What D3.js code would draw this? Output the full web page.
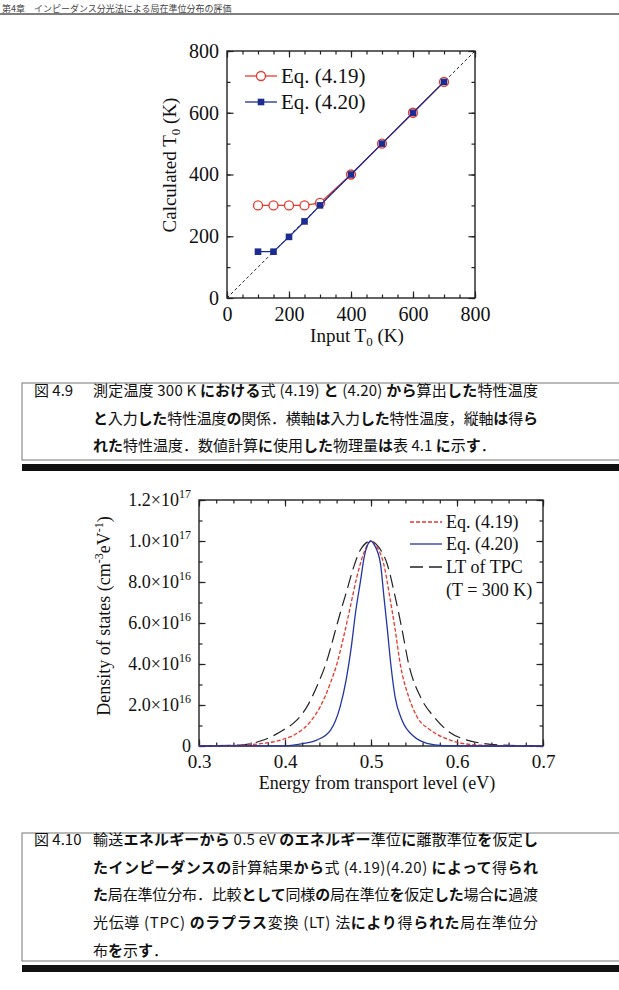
<!DOCTYPE html>
<html>
<head>
<meta charset="utf-8">
<title>特性温度と局在準位分布</title>
<script src="https://d3js.org/d3.v7.min.js"></script>
<style>
  body { margin: 0; background: #fff; }
  svg { display: block; }
</style>
</head>
<body>
<script>
// ---- 図4.9 のデータ（入力した特性温度 vs 得られた特性温度）
var inputT0 = [100, 150, 200, 250, 300, 400, 500, 600, 700];
var t0Eq19  = [300, 300, 300, 300, 308, 400, 500, 600, 700];
var t0Eq20  = [150, 150, 198, 248, 300, 400, 500, 600, 700];
var t0Ticks = [0, 200, 400, 600, 800];

// ---- 図4.10 のデータ（局在準位分布, 単位 10^16 cm^-3 eV^-1）
var energyEq19 = [0.30, 0.336, 0.375, 0.398, 0.414, 0.4295, 0.441, 0.4527, 0.4605, 0.4682, 0.476, 0.4837, 0.4915, 0.500, 0.507, 0.5147, 0.5217, 0.528, 0.534, 0.5438, 0.5535, 0.569, 0.592, 0.623, 0.66, 0.70];
var dosEq19    = [0, 0.02, 0.13, 0.33, 0.62, 1.19, 1.92, 3.06, 4.03, 5.33, 6.8, 8.27, 9.4, 10, 9.7, 8.9, 7.3, 5.7, 4.0, 2.4, 1.43, 0.78, 0.29, 0.05, 0.01, 0];
var energyEq20 = [0.30, 0.40, 0.422, 0.437, 0.453, 0.464, 0.471, 0.477, 0.482, 0.488, 0.492, 0.496, 0.500, 0.504, 0.511, 0.515, 0.519, 0.523, 0.528, 0.536, 0.550, 0.565, 0.584, 0.62, 0.70];
var dosEq20    = [0, 0.01, 0.13, 0.29, 0.78, 1.9, 3.2, 4.8, 6.5, 8.1, 9.2, 9.8, 10, 9.8, 8.9, 7.3, 5.7, 4.0, 2.4, 1.27, 0.46, 0.13, 0.02, 0, 0];
var energyLT   = [0.30, 0.348, 0.375, 0.398, 0.414, 0.4256, 0.437, 0.449, 0.4566, 0.4643, 0.472, 0.48, 0.4876, 0.500, 0.509, 0.5186, 0.528, 0.536, 0.5438, 0.5574, 0.573, 0.588, 0.6116, 0.650, 0.70];
var dosLT      = [0, 0.05, 0.29, 0.78, 1.27, 1.92, 2.9, 4.2, 5.33, 6.5, 7.6, 8.75, 9.56, 10, 9.7, 8.9, 7.3, 5.7, 4.0, 2.4, 1.43, 0.78, 0.29, 0.05, 0];
var energyTicks = [0.3, 0.4, 0.5, 0.6, 0.7];
var dosTicks    = [0, 2, 4, 6, 8, 10, 12];
var dosTickMant = ["0", "2.0", "4.0", "6.0", "8.0", "1.0", "1.2"];
var dosTickExp  = ["", "16", "16", "16", "16", "17", "17"];

var legend1 = ["Eq. (4.19)", "Eq. (4.20)"];
var legend2 = ["Eq. (4.19)", "Eq. (4.20)", "LT of TPC", "(T = 300 K)"];

var caption1 = [
  "測定温度 300 K における式 (4.19) と (4.20) から算出した特性温度",
  "と入力した特性温度の関係．横軸は入力した特性温度，縦軸は得ら",
  "れた特性温度．数値計算に使用した物理量は表 4.1 に示す．"
];
var caption2 = [
  "輸送エネルギーから 0.5 eV のエネルギー準位に離散準位を仮定し",
  "たインピーダンスの計算結果から式 (4.19)(4.20) によって得られ",
  "た局在準位分布．比較として同様の局在準位を仮定した場合に過渡",
  "光伝導 (TPC) のラプラス変換 (LT) 法により得られた局在準位分",
  "布を示す．"
];

var RED = "#e5392c", BLUE = "#1c2c92";
var serif = "'Liberation Serif', serif";
var cjk = "'Noto Sans CJK JP', sans-serif";

var svg = d3.select("body").append("svg").attr("width", 619).attr("height", 990);

// ページヘッダ
svg.append("text").attr("x", 2).attr("y", 11.5)
  .attr("font-family", cjk).attr("font-size", 9).attr("fill", "#444")
  .text("第4章　インピーダンス分光法による局在準位分布の評価");
svg.append("line").attr("x1", 0).attr("x2", 619).attr("y1", 14).attr("y2", 14)
  .attr("stroke", "#555").attr("stroke-width", 1.5);

// 目盛り（内向き, 4辺）
function frameTicks(g, x, y, xMajor, xMinor, yMajor, yMinor) {
  var x0 = x.range()[0], x1 = x.range()[1], y0 = y.range()[0], y1 = y.range()[1];
  g.append("g").attr("transform", "translate(0," + y0 + ")").call(d3.axisBottom(x).tickValues(xMinor).tickSize(-3.5).tickFormat(""));
  g.append("g").attr("transform", "translate(0," + y1 + ")").call(d3.axisTop(x).tickValues(xMinor).tickSize(-3.5).tickFormat(""));
  g.append("g").attr("transform", "translate(" + x0 + ",0)").call(d3.axisLeft(y).tickValues(yMinor).tickSize(-3.5).tickFormat(""));
  g.append("g").attr("transform", "translate(" + x1 + ",0)").call(d3.axisRight(y).tickValues(yMinor).tickSize(-3.5).tickFormat(""));
  g.append("g").attr("transform", "translate(0," + y1 + ")").call(d3.axisTop(x).tickValues(xMajor).tickSize(-6.5).tickFormat(""));
  g.append("g").attr("transform", "translate(" + x1 + ",0)").call(d3.axisRight(y).tickValues(yMajor).tickSize(-6.5).tickFormat(""));
  g.selectAll(".domain").remove();
  g.selectAll(".tick line").attr("stroke", "#222").attr("stroke-width", 1.2);
  g.append("rect").attr("x", x0).attr("y", y1).attr("width", x1 - x0).attr("height", y0 - y1)
    .attr("fill", "none").attr("stroke", "#222").attr("stroke-width", 1.4);
}

// ================= 図4.9 =================
var x1 = d3.scaleLinear().domain([0, 800]).range([227, 475]);
var y1 = d3.scaleLinear().domain([0, 800]).range([298, 51]);
var g1 = svg.append("g");

g1.append("line").attr("x1", x1(0)).attr("y1", y1(0)).attr("x2", x1(800)).attr("y2", y1(800))
  .attr("stroke", "#222").attr("stroke-width", 1).attr("stroke-dasharray", "3,2.5");

frameTicks(g1, x1, y1, t0Ticks, d3.range(0, 801, 50), t0Ticks, d3.range(0, 801, 100));

var ax1 = g1.append("g").attr("transform", "translate(0," + y1(0) + ")")
  .call(d3.axisBottom(x1).tickValues(t0Ticks).tickSize(-6.5).tickPadding(9).tickFormat(d3.format("d")));
var ay1 = g1.append("g").attr("transform", "translate(" + x1(0) + ",0)")
  .call(d3.axisLeft(y1).tickValues(t0Ticks).tickSize(-6.5).tickPadding(8).tickFormat(d3.format("d")));
[ax1, ay1].forEach(function (a) {
  a.select(".domain").remove();
  a.selectAll(".tick line").attr("stroke", "#222").attr("stroke-width", 1.2);
  a.selectAll("text").attr("font-family", serif).attr("font-size", 20).attr("fill", "#111");
});

var pts19 = inputT0.map(function (d, i) { return [d, t0Eq19[i]]; });
var pts20 = inputT0.map(function (d, i) { return [d, t0Eq20[i]]; });
var line1 = d3.line().x(function (d) { return x1(d[0]); }).y(function (d) { return y1(d[1]); });

g1.append("path").attr("d", line1(pts19)).attr("fill", "none").attr("stroke", RED).attr("stroke-width", 1.3);
g1.selectAll("circle.p19").data(pts19).enter().append("circle")
  .attr("cx", function (d) { return x1(d[0]); }).attr("cy", function (d) { return y1(d[1]); })
  .attr("r", 4.5).attr("fill", "#fff").attr("stroke", RED).attr("stroke-width", 1.3);
g1.append("path").attr("d", line1(pts20)).attr("fill", "none").attr("stroke", BLUE).attr("stroke-width", 1.3);
g1.selectAll("rect.p20").data(pts20).enter().append("rect")
  .attr("x", function (d) { return x1(d[0]) - 3.3; }).attr("y", function (d) { return y1(d[1]) - 3.3; })
  .attr("width", 6.6).attr("height", 6.6).attr("fill", BLUE);

// 凡例
[76, 102].forEach(function (ly, i) {
  var c = i === 0 ? RED : BLUE;
  g1.append("line").attr("x1", 245).attr("x2", 277).attr("y1", ly).attr("y2", ly).attr("stroke", c).attr("stroke-width", 1.3);
  if (i === 0) g1.append("circle").attr("cx", 261).attr("cy", ly).attr("r", 4.5).attr("fill", "#fff").attr("stroke", c).attr("stroke-width", 1.3);
  else g1.append("rect").attr("x", 261 - 3.3).attr("y", ly - 3.3).attr("width", 6.6).attr("height", 6.6).attr("fill", c);
  g1.append("text").attr("x", 281).attr("y", ly + 7).attr("font-family", serif).attr("font-size", 21).attr("fill", "#111").text(legend1[i]);
});

// 軸タイトル
var xt1 = g1.append("text").attr("x", 357).attr("y", 342).attr("text-anchor", "middle")
  .attr("font-family", serif).attr("font-size", 19).attr("fill", "#111").text("Input T");
xt1.append("tspan").attr("font-size", 13).attr("dy", 4).text("0");
xt1.append("tspan").attr("dy", -4).text(" (K)");
var yt1 = g1.append("text").attr("transform", "translate(176,165) rotate(-90)").attr("text-anchor", "middle")
  .attr("font-family", serif).attr("font-size", 19).attr("fill", "#111").text("Calculated T");
yt1.append("tspan").attr("font-size", 13).attr("dy", 4).text("0");
yt1.append("tspan").attr("dy", -4).text(" (K)");

// ================= キャプション =================
function kanaRuns(textEl, s) {
  var parts = s.split(/([\u3040-\u30ff]+)/);
  parts.forEach(function (p) {
    if (!p) return;
    var bold = /^[\u3040-\u30ff]+$/.test(p);
    textEl.append("tspan").attr("font-weight", bold ? 700 : 400).text(p);
  });
}
function captionBox(top, bottom, label, lines, firstY) {
  svg.append("rect").attr("x", 22).attr("y", top).attr("width", 640).attr("height", bottom - top)
    .attr("fill", "none").attr("stroke", "#777").attr("stroke-width", 1);
  svg.append("rect").attr("x", 22).attr("y", bottom + 4).attr("width", 620).attr("height", 7).attr("fill", "#111");
  svg.append("text").attr("x", 34).attr("y", firstY).attr("font-family", cjk).attr("font-size", 15).attr("fill", "#111").text(label);
  lines.forEach(function (s, i) {
    var t = svg.append("text").attr("x", 93).attr("y", firstY + i * 27.7)
      .attr("font-family", cjk).attr("font-size", 15).attr("fill", "#111");
    if (i < lines.length - 1) t.attr("textLength", 445).attr("lengthAdjust", "spacing");
    kanaRuns(t, s);
  });
}
captionBox(383, 460, "図 4.9", caption1, 396);
captionBox(833, 961, "図 4.10", caption2, 845);

// ================= 図4.10 =================
var x2 = d3.scaleLinear().domain([0.3, 0.7]).range([199, 543]);
var y2 = d3.scaleLinear().domain([0, 12]).range([746, 500]);
var g2 = svg.append("g");

frameTicks(g2, x2, y2, energyTicks, d3.range(0, 21).map(function (i) { return 0.3 + i * 0.02; }), dosTicks, d3.range(0, 13));

var ax2 = g2.append("g").attr("transform", "translate(0," + y2(0) + ")")
  .call(d3.axisBottom(x2).tickValues(energyTicks).tickSize(-6.5).tickPadding(9).tickFormat(d3.format(".1f")));
ax2.select(".domain").remove();
ax2.selectAll(".tick line").attr("stroke", "#222").attr("stroke-width", 1.2);
ax2.selectAll("text").attr("font-family", serif).attr("font-size", 19).attr("fill", "#111");
var ay2 = g2.append("g").attr("transform", "translate(" + x2(0.3) + ",0)")
  .call(d3.axisLeft(y2).tickValues(dosTicks).tickSize(-6.5).tickFormat(""));
ay2.select(".domain").remove();
ay2.selectAll(".tick line").attr("stroke", "#222").attr("stroke-width", 1.2);

dosTicks.forEach(function (v, i) {
  var t = g2.append("text").attr("x", x2(0.3) - 8).attr("y", y2(v) + 6).attr("text-anchor", "end")
    .attr("font-family", serif).attr("font-size", 18).attr("fill", "#111");
  if (dosTickExp[i] === "") { t.text(dosTickMant[i]); return; }
  t.append("tspan").text(dosTickMant[i] + "×10");
  t.append("tspan").attr("font-size", 12).attr("dy", -8).text(dosTickExp[i]);
});

var line2 = d3.line().curve(d3.curveMonotoneX).x(function (d) { return x2(d[0]); }).y(function (d) { return y2(d[1]); });
var curves = [
  { e: energyLT, d: dosLT, color: "#222", dash: "13,6", w: 1.2 },
  { e: energyEq19, d: dosEq19, color: RED, dash: "4,2", w: 1.3 },
  { e: energyEq20, d: dosEq20, color: "#2235a5", dash: null, w: 1.3 }
];
curves.forEach(function (c) {
  var pts = c.e.map(function (e, i) { return [e, c.d[i]]; });
  g2.append("path").attr("d", line2(pts)).attr("fill", "none").attr("stroke", c.color)
    .attr("stroke-width", c.w).attr("stroke-dasharray", c.dash);
});

// 凡例
var leg2 = [
  { y: 522, color: RED, dash: "4,2" },
  { y: 544, color: "#2235a5", dash: null },
  { y: 567, color: "#222", dash: "13,6" }
];
leg2.forEach(function (l, i) {
  g2.append("line").attr("x1", 410).attr("x2", 442).attr("y1", l.y).attr("y2", l.y)
    .attr("stroke", l.color).attr("stroke-width", 1.3).attr("stroke-dasharray", l.dash);
  g2.append("text").attr("x", 446).attr("y", l.y + 6).attr("font-family", serif).attr("font-size", 18).attr("fill", "#111").text(legend2[i]);
});
g2.append("text").attr("x", 446).attr("y", 596).attr("font-family", serif).attr("font-size", 18).attr("fill", "#111").text(legend2[3]);

// 軸タイトル
g2.append("text").attr("x", 377).attr("y", 789).attr("text-anchor", "middle")
  .attr("font-family", serif).attr("font-size", 18).attr("fill", "#111").text("Energy from transport level (eV)");
var yt2 = g2.append("text").attr("transform", "translate(110,616) rotate(-90)").attr("text-anchor", "middle")
  .attr("font-family", serif).attr("font-size", 18).attr("fill", "#111").text("Density of states (cm");
yt2.append("tspan").attr("font-size", 12).attr("dy", -7).text("-3");
yt2.append("tspan").attr("dy", 7).text("eV");
yt2.append("tspan").attr("font-size", 12).attr("dy", -7).text("-1");
yt2.append("tspan").attr("dy", 7).text(")");
</script>
</body>
</html>
